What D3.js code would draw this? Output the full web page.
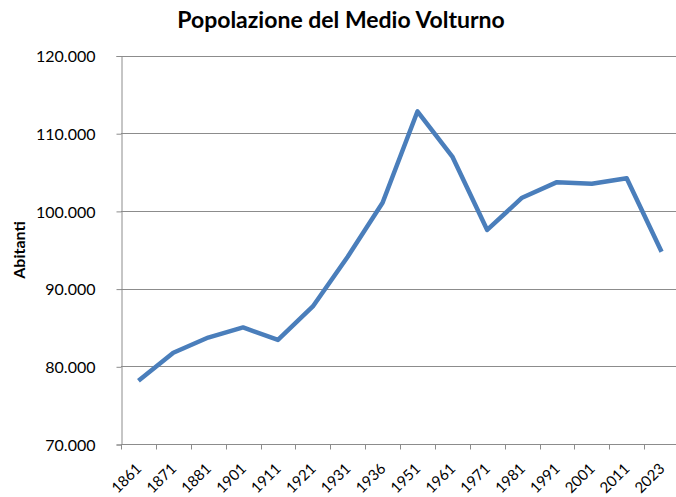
<!DOCTYPE html>
<html>
<head>
    <title>Popolazione del Medio Volturno</title>
    <script src="https://d3js.org/d3.v7.min.js"></script>
    <style>
        body { margin: 0; background: #fff; }
        text { font-family: Lato, "Noto Sans", sans-serif; fill: #000; }
        .grid line { stroke: #8c8c8c; stroke-width: 1px; }
        .axis path, .axis line { stroke: #8c8c8c; stroke-width: 1px; }
        .line { fill: none; stroke: #4a7ebb; stroke-width: 4.5px; stroke-linejoin: round; }
    </style>
</head>
<body>
<script>
    var years = ["1861", "1871", "1881", "1901", "1911", "1921", "1931", "1936",
        "1951", "1961", "1971", "1981", "1991", "2001", "2011", "2023"];
    var abitanti = [78150, 81750, 83700, 85000, 83400, 87700, 94100, 101050,
        112800, 107000, 97550, 101700, 103700, 103500, 104200, 94750];
    var yTicks = [70000, 80000, 90000, 100000, 110000, 120000];

    var width = 676, height = 497;
    var margin = { top: 55.5, right: -3, bottom: 53, left: 121 };

    var svg = d3.select("body").append("svg")
        .attr("width", width)
        .attr("height", height);

    var x = d3.scaleBand()
        .domain(years)
        .range([margin.left, width - margin.right]);

    var y = d3.scaleLinear()
        .domain([70000, 120000])
        .range([height - margin.bottom, margin.top]);

    var fmt = function (d) { return d3.format(",")(d).replace(/,/g, "."); };

    // gridlines
    svg.append("g")
        .attr("class", "grid")
        .selectAll("line")
        .data(yTicks)
        .enter()
        .append("line")
        .attr("x1", margin.left)
        .attr("x2", width)
        .attr("y1", d => Math.round(y(d)) + 0.5)
        .attr("y2", d => Math.round(y(d)) + 0.5);

    // y axis
    var yAxis = svg.append("g")
        .attr("class", "axis")
        .attr("transform", "translate(" + (margin.left + 0.5) + ",0.5)")
        .call(d3.axisLeft(y).tickValues(yTicks).tickFormat(fmt).tickSize(5).tickPadding(21));
    yAxis.selectAll("text").style("font-size", "16px").attr("dy", "0.35em");

    // x axis
    var xTickPos = years.map(d => x(d)).concat([x.range()[1]]);
    var xAxis = svg.append("g")
        .attr("class", "axis")
        .attr("transform", "translate(0," + (Math.round(y(70000)) + 0.5) + ")");
    xAxis.append("line")
        .attr("x1", margin.left)
        .attr("x2", width);
    xAxis.selectAll(".tick")
        .data(xTickPos)
        .enter()
        .append("line")
        .attr("x1", d => Math.round(d) + 0.5)
        .attr("x2", d => Math.round(d) + 0.5)
        .attr("y1", 0)
        .attr("y2", 5);
    xAxis.selectAll(".lbl")
        .data(years)
        .enter()
        .append("text")
        .attr("class", "lbl")
        .attr("text-anchor", "end")
        .style("font-size", "15px")
        .attr("transform", d => "translate(" + (x(d) + x.bandwidth() / 2 + 4) + ",25) rotate(-45)")
        .text(d => d);

    // line
    var line = d3.line()
        .x((d, i) => x(years[i]) + x.bandwidth() / 2)
        .y(d => y(d));

    svg.append("path")
        .datum(abitanti)
        .attr("class", "line")
        .attr("d", line);

    // title
    svg.append("text")
        .attr("x", 341)
        .attr("y", 28)
        .attr("text-anchor", "middle")
        .style("font-size", "23px")
        .style("font-weight", "bold")
        .text("Popolazione del Medio Volturno");

    // y axis label
    svg.append("text")
        .attr("transform", "translate(25,250) rotate(-90)")
        .attr("text-anchor", "middle")
        .style("font-size", "16px")
        .style("font-weight", "bold")
        .text("Abitanti");
</script>
</body>
</html>
